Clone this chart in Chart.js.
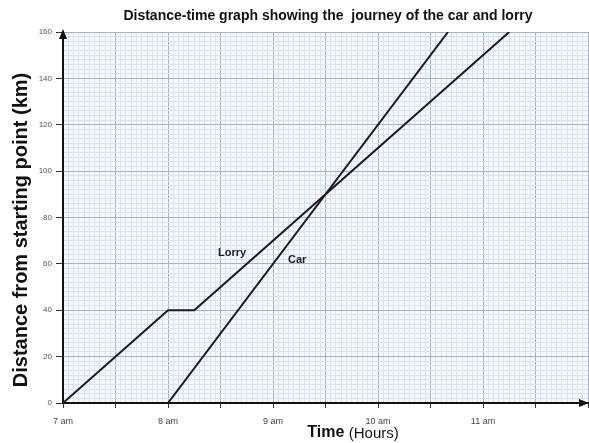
<!DOCTYPE html>
<html>
<head>
<meta charset="utf-8">
<script src="https://cdn.jsdelivr.net/npm/chart.js@4"></script>
<style>
  html, body { margin: 0; padding: 0; background: #fff; }
  #wrap { width: 589px; height: 443px; }
</style>
</head>
<body>
<div id="wrap"><canvas id="graph"></canvas></div>
<script>
// donnees (heures decimales, km)
const lorryTimes = [7, 8, 8.25, 11.25];
const lorryDist = [0, 40, 40, 160];
const carTimes = [8, 10 + 40 / 60];
const carDist = [0, 160];
const hourLabels = ['7 am', '8 am', '9 am', '10 am', '11 am'];
const distTicks = [0, 20, 40, 60, 80, 100, 120, 140, 160];

const toPoints = (xs, ys) => xs.map((x, i) => ({ x: x, y: ys[i] }));

// fond bleute + textes + fleches
const decor = {
  id: 'decor',
  beforeDraw(chart) {
    const { ctx, chartArea: a } = chart;
    ctx.save();
    ctx.fillStyle = '#f4f8fb';
    ctx.fillRect(a.left, a.top, a.right - a.left, a.bottom - a.top);
    ctx.restore();
  },
  afterDraw(chart) {
    const { ctx, chartArea: a, scales } = chart;
    const x = scales.x, y = scales.y;
    ctx.save();
    ctx.fillStyle = '#111';
    ctx.strokeStyle = '#111';

    // titre
    ctx.font = 'bold 14px "Liberation Sans", Arial, sans-serif';
    ctx.textAlign = 'center';
    ctx.textBaseline = 'middle';
    ctx.fillText('Distance-time graph showing the  journey of the car and lorry', 328, 16);

    // titre axe y
    ctx.save();
    ctx.translate(21, 230);
    ctx.rotate(-Math.PI / 2);
    ctx.font = 'bold 20px "Liberation Sans", Arial, sans-serif';
    ctx.fillText('Distance from starting point (km)', 0, 0);
    ctx.restore();

    // titre axe x : "Time" gras, "(Hours)" normal
    ctx.textAlign = 'left';
    ctx.font = 'bold 16px "Liberation Sans", Arial, sans-serif';
    const w1 = ctx.measureText('Time ').width;
    ctx.font = '15px "Liberation Sans", Arial, sans-serif';
    const w2 = ctx.measureText('(Hours)').width;
    let sx = 353 - (w1 + w2) / 2;
    ctx.font = 'bold 16px "Liberation Sans", Arial, sans-serif';
    ctx.fillText('Time', sx, 433);
    ctx.font = '15px "Liberation Sans", Arial, sans-serif';
    ctx.fillText('(Hours)', sx + w1, 434);

    // etiquettes des lignes
    ctx.textAlign = 'center';
    ctx.font = 'bold 11px "Liberation Sans", Arial, sans-serif';
    ctx.fillStyle = '#222';
    ctx.fillText('Lorry', x.getPixelForValue(8.61), y.getPixelForValue(64.5));
    ctx.fillText('Car', x.getPixelForValue(9.23), y.getPixelForValue(61.5));

    // fleches des axes
    ctx.fillStyle = '#111';
    const x0 = a.left, y0 = a.bottom;
    ctx.beginPath();
    ctx.moveTo(x0, a.top - 3);
    ctx.lineTo(x0 - 4, a.top + 7);
    ctx.lineTo(x0 + 4, a.top + 7);
    ctx.closePath();
    ctx.fill();
    ctx.beginPath();
    ctx.moveTo(a.right + 1, y0);
    ctx.lineTo(a.right - 9, y0 - 4);
    ctx.lineTo(a.right - 9, y0 + 4);
    ctx.closePath();
    ctx.fill();
    ctx.restore();
  }
};

const isStep = (v, step) => Math.abs(v / step - Math.round(v / step)) < 1e-6;

new Chart(document.getElementById('graph'), {
  type: 'scatter',
  data: {
    datasets: [{
      label: 'Lorry',
      data: toPoints(lorryTimes, lorryDist),
      showLine: true,
      borderColor: '#1a1a1a',
      borderWidth: 2,
      pointRadius: 0,
      tension: 0
    }, {
      label: 'Car',
      data: toPoints(carTimes, carDist),
      showLine: true,
      borderColor: '#1a1a1a',
      borderWidth: 2,
      pointRadius: 0,
      tension: 0
    }]
  },
  options: {
    responsive: true,
    maintainAspectRatio: false,
    animation: false,
    layout: { padding: { top: 32, right: 1, left: 0, bottom: 0 } },
    plugins: {
      legend: { display: false },
      tooltip: { enabled: false }
    },
    scales: {
      x: {
        type: 'linear',
        min: 7,
        max: 12,
        afterFit: (s) => { s.height = 40; s.paddingLeft = 0; s.paddingRight = 0; },
        border: { display: true, color: '#111', width: 2 },
        grid: {
          color: (c) => isStep(c.tick.value, 0.5) ? '#a3b5c2' : '#d8e3ea',
          lineWidth: 1,
          tickLength: 5,
          tickColor: (c) => isStep(c.tick.value, 0.5) ? '#333' : 'rgba(0,0,0,0)'
        },
        ticks: {
          stepSize: 0.05,
          autoSkip: false,
          maxRotation: 0,
          padding: 8,
          color: '#444',
          font: { size: 9, family: '"Liberation Sans", Arial, sans-serif' },
          callback: (v) => {
            if (!isStep(v, 1)) return '';
            const i = Math.round(v) - 7;
            return hourLabels[i] !== undefined ? hourLabels[i] : '';
          }
        }
      },
      y: {
        min: 0,
        max: 160,
        afterFit: (s) => { s.width = 63; s.paddingTop = 0; s.paddingBottom = 0; },
        border: { display: true, color: '#111', width: 2 },
        grid: {
          color: (c) => isStep(c.tick.value, 20) ? '#a3b5c2' : '#d8e3ea',
          lineWidth: 1,
          tickLength: 7,
          tickColor: (c) => isStep(c.tick.value, 20) ? '#333' : 'rgba(0,0,0,0)'
        },
        ticks: {
          stepSize: 2,
          autoSkip: false,
          padding: 4,
          color: '#555',
          font: { size: 8, family: '"Liberation Sans", Arial, sans-serif' },
          callback: (v) => distTicks.includes(Math.round(v)) && isStep(v, 20) ? String(Math.round(v)) : ''
        }
      }
    }
  },
  plugins: [decor]
});
</script>
</body>
</html>
